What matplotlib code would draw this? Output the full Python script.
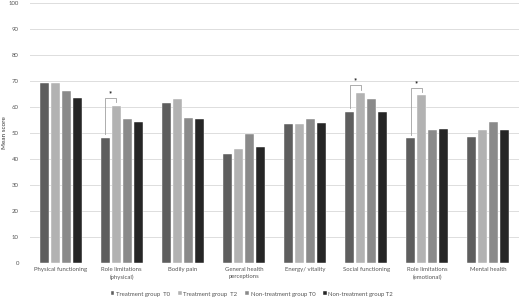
import matplotlib.pyplot as plt
import numpy as np

# data
categories = ["Physical functioning", "Role limitations\n(physical)", "Bodily pain",
              "General health\nperceptions", "Energy/ vitality", "Social functioning",
              "Role limitations\n(emotional)", "Mental health"]
treat_t0 = [69.1, 48.2, 61.7, 41.9, 53.5, 58.2, 48.0, 48.3]
treat_t2 = [69.1, 60.5, 63.1, 44.0, 53.6, 65.4, 64.6, 51.3]
nontreat_t0 = [66.3, 55.4, 55.8, 49.7, 55.5, 63.0, 51.0, 54.1]
nontreat_t2 = [63.6, 54.2, 55.3, 44.7, 53.7, 58.1, 51.4, 51.0]
series_names = ["Treatment group  T0", "Treatment group  T2",
                "Non-treatment group T0", "Non-treatment group T2"]
significant = [1, 5, 6]  # categories with a T0 vs T2 star
yticks = list(range(0, 101, 10))

colors = ["#5e5e5e", "#b2b2b2", "#8a8a8a", "#262626"]
plt.rcParams['font.family'] = ['Lato', 'DejaVu Sans']

fig = plt.figure(figsize=(5.2, 2.98), dpi=100, facecolor="w")
ax = fig.add_axes([30 / 520, 1 - 263 / 298, 489 / 520, 260 / 298])

x = np.arange(len(categories))
step = 0.18
width = 0.148
all_series = [treat_t0, treat_t2, nontreat_t0, nontreat_t2]
for i, (vals, name) in enumerate(zip(all_series, series_names)):
    ax.bar(x + (i - 1.5) * step, vals, width, color=colors[i], label=name,
           edgecolor="white", linewidth=0.3, zorder=3)

# significance brackets
for c in significant:
    xl = c - 1.5 * step
    xr = c - 0.5 * step
    top = treat_t2[c] + 2.9
    ax.plot([xl, xl, xr, xr], [treat_t0[c] + 1.3, top, top, treat_t2[c] + 1.3],
            color="#a0a0a0", lw=0.6, zorder=4)
    ax.text((xl + xr) / 2, top + 0.3, "*", ha="center", va="bottom",
            fontsize=5.5, fontweight="bold", color="#222222")

ax.set_xlim(-0.5, len(categories) - 0.5)
ax.set_ylim(0, 100)
ax.set_yticks(yticks)
ax.set_xticks(x)
ax.set_xticklabels(categories, fontsize=4.3, color="#555555", linespacing=1.5)
ax.tick_params(axis="y", labelsize=4.3, labelcolor="#555555", length=0, pad=8)
ax.tick_params(axis="x", length=0, pad=3)
ax.grid(axis="y", color="#dddddd", lw=0.7, zorder=0)
for s in ax.spines.values():
    s.set_visible(False)
ax.axhline(0, color="#d0d0d0", lw=0.7, zorder=1)
fig.text(5 / 520, 1 - 133 / 298, "Mean score", rotation=90, ha="center",
         va="center", fontsize=4.6, color="#333333")

fig.legend(loc="center", bbox_to_anchor=(252 / 520, 1 - 294 / 298), ncol=4,
           frameon=False, fontsize=4.3, handlelength=0.6, handleheight=0.6,
           handletextpad=0.3, columnspacing=1.3, labelcolor="#555555")

fig.savefig("out.png", dpi=100)
